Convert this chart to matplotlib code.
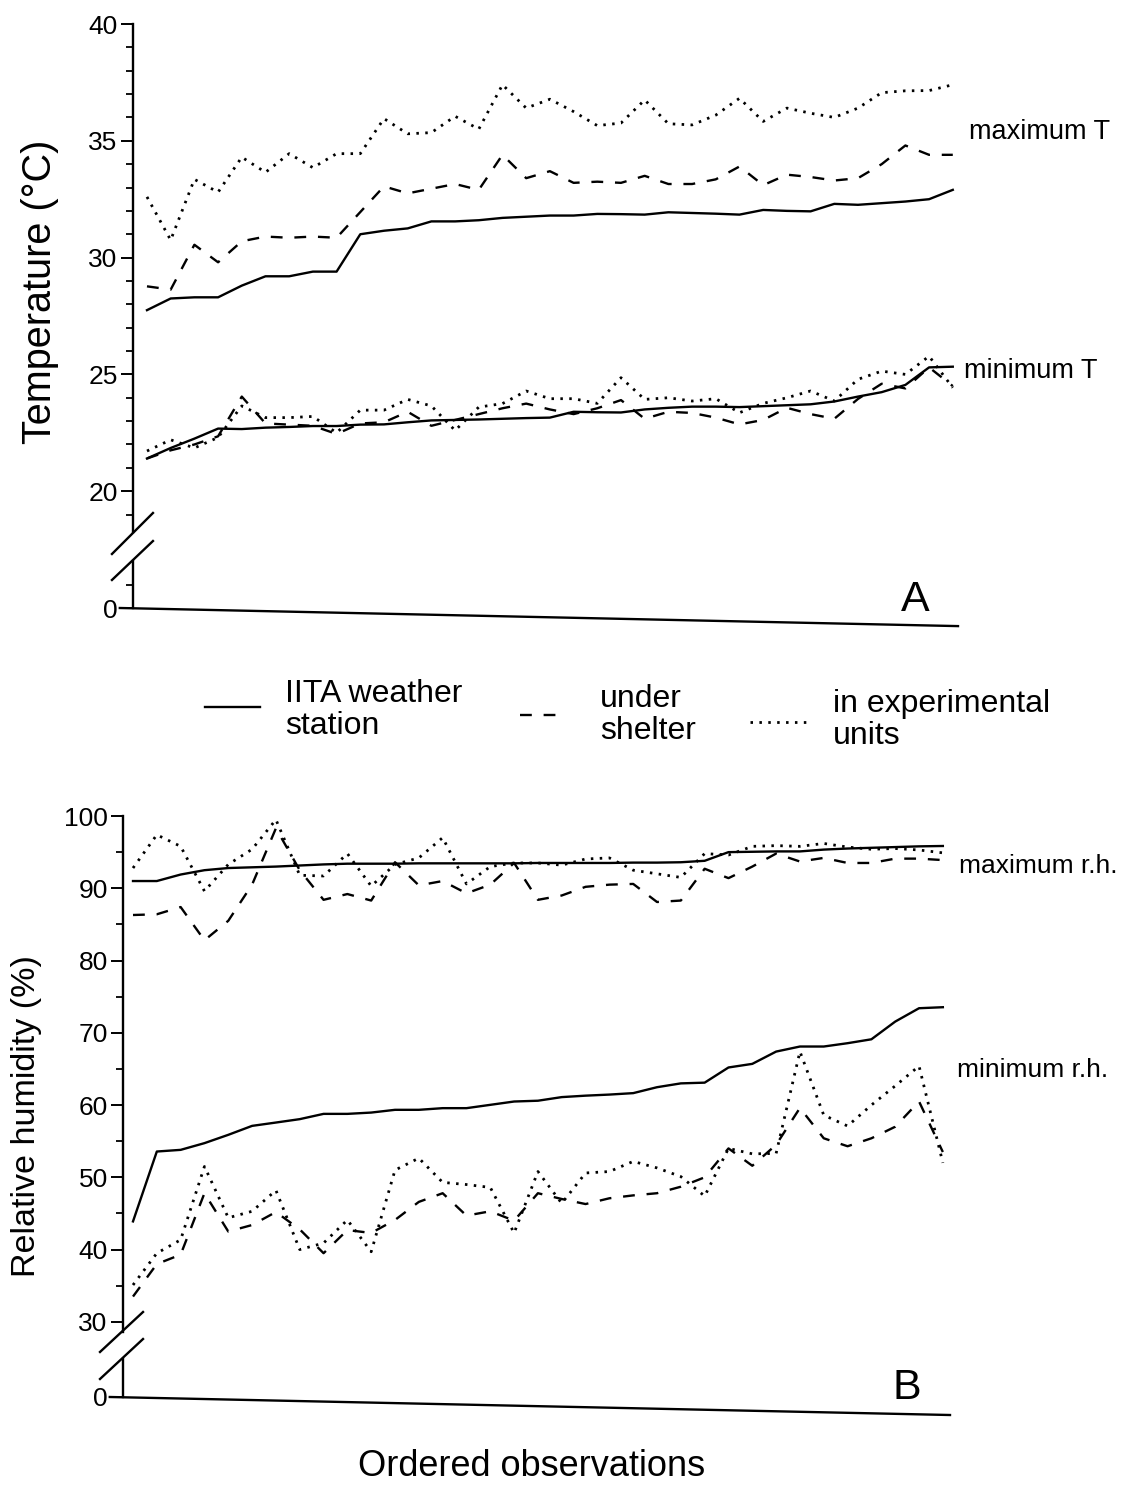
import matplotlib
matplotlib.use("Agg")
import matplotlib.pyplot as plt
from matplotlib.lines import Line2D
import matplotlib.transforms as mtransforms

plt.rcParams['font.family'] = ['Liberation Sans', 'DejaVu Sans']

# ---------------- data (ordered observations, 35 each) ----------------
maxT_station = [27.75, 28.25, 28.3, 28.3, 28.8, 29.2, 29.2, 29.4, 29.4, 31.0, 31.15, 31.25,
                31.55, 31.55, 31.6, 31.7, 31.75, 31.8, 31.8, 31.87, 31.86, 31.84, 31.94, 31.91,
                31.88, 31.84, 32.04, 32.0, 31.98, 32.3, 32.26, 32.33, 32.4, 32.5, 32.9]
maxT_shelter = [28.77, 28.63, 30.55, 29.8, 30.7, 30.9, 30.85, 30.9, 30.85, 31.95, 33.05, 32.75,
                32.95, 33.15, 32.9, 34.4, 33.4, 33.7, 33.2, 33.25, 33.2, 33.5, 33.15, 33.15,
                33.35, 33.9, 33.1, 33.55, 33.45, 33.3, 33.4, 34.0, 34.8, 34.4, 34.4]
maxT_units = [32.6, 30.75, 33.35, 32.8, 34.3, 33.65, 34.45, 33.85, 34.45, 34.45, 35.95, 35.3,
              35.35, 36.05, 35.5, 37.4, 36.4, 36.78, 36.25, 35.65, 35.76, 36.75, 35.73, 35.68,
              36.1, 36.82, 35.83, 36.4, 36.18, 36.0, 36.4, 37.06, 37.14, 37.15, 37.4]
minT_station = [21.4, 21.85, 22.25, 22.68, 22.66, 22.72, 22.75, 22.79, 22.79, 22.85, 22.86, 22.95,
                23.03, 23.05, 23.07, 23.1, 23.13, 23.15, 23.4, 23.38, 23.37, 23.5, 23.57, 23.62,
                23.62, 23.6, 23.64, 23.68, 23.72, 23.84, 24.05, 24.24, 24.55, 25.3, 25.33]
minT_shelter = [21.4, 21.75, 22.0, 22.35, 24.05, 22.9, 22.85, 22.8, 22.45, 22.9, 22.95, 23.4,
                22.8, 23.05, 23.3, 23.55, 23.75, 23.5, 23.3, 23.55, 23.9, 23.1, 23.4, 23.35,
                23.15, 22.86, 23.05, 23.57, 23.3, 23.1, 23.95, 24.6, 24.4, 25.3, 24.5]
minT_units = [21.72, 22.2, 21.85, 22.3, 23.65, 23.15, 23.15, 23.2, 22.5, 23.47, 23.47, 23.93,
              23.65, 22.6, 23.6, 23.75, 24.29, 23.96, 23.96, 23.76, 24.86, 23.93, 24.0, 23.86,
              23.96, 23.36, 23.76, 24.0, 24.29, 23.86, 24.79, 25.14, 25.0, 25.78, 24.43]

maxRH_station = [91.0, 91.0, 91.9, 92.5, 92.8, 92.9, 93.0, 93.15, 93.3, 93.4, 93.4, 93.4,
                 93.45, 93.45, 93.45, 93.45, 93.45, 93.5, 93.5, 93.5, 93.5, 93.55, 93.55, 93.6,
                 93.8, 95.0, 95.05, 95.1, 95.1, 95.35, 95.5, 95.6, 95.7, 95.8, 95.85]
maxRH_shelter = [86.3, 86.4, 87.4, 82.8, 85.5, 90.5, 98.3, 92.5, 88.4, 89.2, 88.3, 93.6,
                 90.4, 91.0, 89.3, 90.5, 93.5, 88.4, 89.0, 90.2, 90.5, 90.6, 88.1, 88.3,
                 92.7, 91.4, 93.0, 94.8, 93.7, 94.2, 93.5, 93.5, 94.1, 94.1, 93.9]
maxRH_units = [92.8, 97.4, 95.8, 89.6, 93.3, 95.4, 99.5, 91.8, 91.7, 94.8, 90.3, 93.3,
               94.2, 97.0, 90.6, 93.0, 93.5, 93.5, 93.2, 94.05, 94.2, 92.5, 92.0, 91.5,
               94.8, 94.6, 95.8, 95.9, 95.8, 96.2, 95.7, 95.4, 95.5, 95.3, 94.9]
minRH_station = [43.9, 53.57, 53.8, 54.73, 55.88, 57.12, 57.58, 58.05, 58.78, 58.78, 58.96, 59.34,
                 59.34, 59.57, 59.57, 60.03, 60.49, 60.6, 61.1, 61.3, 61.45, 61.65, 62.47, 63.0,
                 63.1, 65.2, 65.7, 67.4, 68.1, 68.1, 68.56, 69.1, 71.55, 73.4, 73.54]
minRH_shelter = [33.5, 38.0, 39.3, 47.8, 42.5, 43.4, 45.2, 42.8, 39.5, 42.7, 42.3, 44.1,
                 46.6, 47.8, 44.7, 45.3, 44.0, 47.8, 47.0, 46.3, 47.1, 47.5, 47.8, 48.7,
                 50.0, 54.0, 51.6, 54.5, 59.6, 55.4, 54.3, 55.4, 57.0, 60.5, 53.5]
minRH_units = [35.1, 39.5, 41.35, 51.5, 44.4, 45.3, 48.2, 40.0, 40.9, 44.1, 39.7, 51.0,
               52.65, 49.3, 49.0, 48.6, 42.3, 50.8, 46.4, 50.6, 50.8, 52.2, 51.3, 50.1,
               47.4, 54.0, 53.25, 53.3, 67.4, 58.6, 57.1, 60.0, 62.65, 65.4, 52.0]

temp_ticks = [20, 25, 30, 35, 40]
rh_ticks = [30, 40, 50, 60, 70, 80, 90, 100]
legend_labels = ["IITA weather\nstation", "under\nshelter", "in experimental\nunits"]

# ---------------- styling ----------------
W, H = 1129, 1487
fig = plt.figure(figsize=(W / 100, H / 100), dpi=100)
fig.patch.set_facecolor('white')

LW = 1.7
STY = {
    'station': dict(color='black', lw=LW, linestyle='-'),
    'shelter': dict(color='black', lw=LW, linestyle=(0, (5, 5))),
    'units': dict(color='black', lw=2.0, linestyle=(0, (0.9, 2.3))),
}
TICKFS = 19


def fx(px):
    return px / W


def fy(py):
    return 1 - py / H


def setup_axis(ax, zero_val, top_val, major, minor, gap, breaks, tilt):
    ax.set_ylim(zero_val, top_val)
    ax.set_yticks([zero_val] + major)
    ax.set_yticklabels(['0'] + [str(v) for v in major])
    ax.set_yticks(minor, minor=True)
    ax.tick_params(axis='y', which='major', direction='out', length=9, width=1.4,
                   labelsize=TICKFS, pad=2)
    ax.tick_params(axis='y', which='minor', direction='out', length=5, width=1.3)
    ax.set_xticks([])
    for s in ['top', 'right', 'bottom', 'left']:
        ax.spines[s].set_visible(False)
    # left spine with a break gap
    trans = mtransforms.blended_transform_factory(ax.transAxes, ax.transData)
    ax.plot([0, 0], [zero_val, gap[0]], color='black', lw=1.7, transform=trans, clip_on=False)
    ax.plot([0, 0], [gap[1], top_val], color='black', lw=1.7, transform=trans, clip_on=False)
    # break marks
    for (x0, y0, x1, y1) in breaks:
        ax.plot([x0, x1], [y0, y1], color='black', lw=1.7, transform=ax.transAxes,
                clip_on=False)
    # slightly tilted bottom axis line (as in the scanned original)
    ax.plot([tilt[0], 1.0], [0, tilt[1]], color='black', lw=1.7, transform=ax.transAxes,
            clip_on=False)


# ---------------- panel A ----------------
axA = fig.add_axes([fx(133), fy(608), fx(958 - 133), (608 - 24) / H])
idx = list(range(len(maxT_station)))
for key, series in [('station', maxT_station), ('shelter', maxT_shelter), ('units', maxT_units),
                    ('station', minT_station), ('shelter', minT_shelter), ('units', minT_units)]:
    axA.plot(idx, series, **STY[key])
axA.set_xlim(-0.59, 34.22)
setup_axis(axA, 15, 40, temp_ticks,
           [16, 19] + [v for v in range(21, 40) if v % 5 != 0],
           gap=(17.0, 18.25),
           breaks=[(-0.0255, 0.0925, 0.0242, 0.1627), (-0.0255, 0.048, 0.0242, 0.1147)],
           tilt=(-0.016, -0.031))

# ---------------- panel B ----------------
axB = fig.add_axes([fx(123), fy(1397), fx(950 - 123), (1397 - 816) / H])
idx = list(range(len(maxRH_station)))
for key, series in [('station', maxRH_station), ('shelter', maxRH_shelter), ('units', maxRH_units),
                    ('station', minRH_station), ('shelter', minRH_shelter), ('units', minRH_units)]:
    axB.plot(idx, series, **STY[key])
axB.set_xlim(-0.42, 34.3)
setup_axis(axB, 19.6, 100, rh_ticks,
           [35, 45, 55, 65, 75, 85, 95],
           gap=(24.8, 28.6),
           breaks=[(-0.0278, 0.0775, 0.0242, 0.1463), (-0.0278, 0.031, 0.0242, 0.0998)],
           tilt=(-0.016, -0.031))

# ---------------- texts ----------------
fig.text(fx(40), fy(292), "Temperature (°C)", rotation=90, ha='center', va='center', fontsize=28.5)
fig.text(fx(27), fy(1116), "Relative humidity (%)", rotation=90, ha='center', va='center',
         fontsize=24.5)
fig.text(fx(532), fy(1467), "Ordered observations", ha='center', va='center', fontsize=26)

fig.text(fx(969), fy(132), "maximum T", ha='left', va='center', fontsize=19.5)
fig.text(fx(964), fy(371), "minimum T", ha='left', va='center', fontsize=19.5)
fig.text(fx(959), fy(866), "maximum r.h.", ha='left', va='center', fontsize=19)
fig.text(fx(957), fy(1070), "minimum r.h.", ha='left', va='center', fontsize=19)
fig.text(fx(915), fy(600), "A", ha='center', va='center', fontsize=31)
fig.text(fx(907), fy(1388), "B", ha='center', va='center', fontsize=31)

# ---------------- legend (drawn between the panels) ----------------
leg_items = [
    ('station', (205, 260, 707), (285, 710)),
    ('shelter', (520, 566, 715), (600, 715)),
    ('units', (750, 806, 722), (833, 720)),
]
for (key, (x0, x1, yl), (tx, ty)), lab in zip(leg_items, legend_labels):
    fig.add_artist(Line2D([fx(x0), fx(x1)], [fy(yl), fy(yl)], transform=fig.transFigure,
                          **STY[key]))
    fig.text(fx(tx), fy(ty), lab, ha='left', va='center', fontsize=23, linespacing=1.05)

fig.savefig("out.png", dpi=100, facecolor='white')
